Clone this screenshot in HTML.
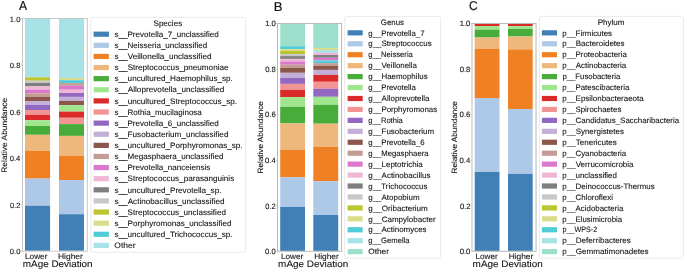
<!DOCTYPE html>
<html><head><meta charset="utf-8"><style>
html,body{margin:0;padding:0;background:#fff;width:685px;height:270px;overflow:hidden;}
svg{display:block;will-change:transform;}
text{text-rendering:geometricPrecision;font-family:"Liberation Sans",sans-serif;fill:#141414;stroke:#141414;stroke-width:0.1px;}
</style></head><body>
<svg width="685" height="270" viewBox="0 0 685 270">
<rect x="0" y="0" width="685" height="270" fill="#fff"/>
<rect x="25.00" y="18.70" width="25.10" height="58.60" fill="#a6e2e6"/>
<rect x="25.00" y="77.30" width="25.10" height="3.40" fill="#bcc430"/>
<rect x="25.00" y="80.70" width="25.10" height="2.30" fill="#c8c8c8"/>
<rect x="25.00" y="83.00" width="25.10" height="3.30" fill="#7f7f7f"/>
<rect x="25.00" y="86.30" width="25.10" height="3.40" fill="#f0b6d6"/>
<rect x="25.00" y="89.70" width="25.10" height="3.60" fill="#dc78cc"/>
<rect x="25.00" y="93.30" width="25.10" height="3.60" fill="#c49c94"/>
<rect x="25.00" y="96.90" width="25.10" height="4.10" fill="#8c564b"/>
<rect x="25.00" y="101.00" width="25.10" height="3.90" fill="#c4afd8"/>
<rect x="25.00" y="104.90" width="25.10" height="5.10" fill="#9268c2"/>
<rect x="25.00" y="110.00" width="25.10" height="4.90" fill="#f29494"/>
<rect x="25.00" y="114.90" width="25.10" height="5.30" fill="#da2a2a"/>
<rect x="25.00" y="120.20" width="25.10" height="5.80" fill="#a0e68e"/>
<rect x="25.00" y="126.00" width="25.10" height="8.80" fill="#48ac3a"/>
<rect x="25.00" y="134.80" width="25.10" height="16.20" fill="#eeb77c"/>
<rect x="25.00" y="151.00" width="25.10" height="27.60" fill="#f08024"/>
<rect x="25.00" y="178.60" width="25.10" height="27.10" fill="#aec8e7"/>
<rect x="25.00" y="205.70" width="25.10" height="45.10" fill="#4080b6"/>
<rect x="59.00" y="18.70" width="25.00" height="59.30" fill="#a6e2e6"/>
<rect x="59.00" y="78.00" width="25.00" height="2.20" fill="#dade8c"/>
<rect x="59.00" y="80.20" width="25.00" height="2.90" fill="#50ccd6"/>
<rect x="59.00" y="83.10" width="25.00" height="2.70" fill="#c49c94"/>
<rect x="59.00" y="85.80" width="25.00" height="3.90" fill="#dc78cc"/>
<rect x="59.00" y="89.70" width="25.00" height="3.30" fill="#f0b6d6"/>
<rect x="59.00" y="93.00" width="25.00" height="3.90" fill="#9268c2"/>
<rect x="59.00" y="96.90" width="25.00" height="4.00" fill="#c4afd8"/>
<rect x="59.00" y="100.90" width="25.00" height="4.20" fill="#8c564b"/>
<rect x="59.00" y="105.10" width="25.00" height="6.50" fill="#a0e68e"/>
<rect x="59.00" y="111.60" width="25.00" height="6.20" fill="#da2a2a"/>
<rect x="59.00" y="117.80" width="25.00" height="6.30" fill="#f29494"/>
<rect x="59.00" y="124.10" width="25.00" height="11.80" fill="#48ac3a"/>
<rect x="59.00" y="135.90" width="25.00" height="19.80" fill="#eeb77c"/>
<rect x="59.00" y="155.70" width="25.00" height="24.30" fill="#f08024"/>
<rect x="59.00" y="180.00" width="25.00" height="34.20" fill="#aec8e7"/>
<rect x="59.00" y="214.20" width="25.00" height="36.60" fill="#4080b6"/>
<rect x="22.50" y="18.50" width="64.80" height="232.70" fill="none" stroke="#c6c6c6" stroke-width="1"/>
<rect x="20.50" y="250.70" width="1.5" height="1" fill="#d0d0d0"/>
<rect x="20.50" y="204.16" width="1.5" height="1" fill="#d0d0d0"/>
<rect x="20.50" y="157.62" width="1.5" height="1" fill="#d0d0d0"/>
<rect x="20.50" y="111.08" width="1.5" height="1" fill="#d0d0d0"/>
<rect x="20.50" y="64.54" width="1.5" height="1" fill="#d0d0d0"/>
<rect x="20.50" y="18.00" width="1.5" height="1" fill="#d0d0d0"/>
<rect x="90.80" y="17.30" width="154.80" height="234.90" rx="2" ry="2" fill="#fff" stroke="#eaeaea" stroke-width="1"/>
<rect x="93.60" y="31.60" width="15.30" height="5.20" fill="#4080b6"/>
<rect x="93.60" y="42.72" width="15.30" height="5.20" fill="#aec8e7"/>
<rect x="93.60" y="53.83" width="15.30" height="5.20" fill="#f08024"/>
<rect x="93.60" y="64.95" width="15.30" height="5.20" fill="#eeb77c"/>
<rect x="93.60" y="76.06" width="15.30" height="5.20" fill="#48ac3a"/>
<rect x="93.60" y="87.18" width="15.30" height="5.20" fill="#a0e68e"/>
<rect x="93.60" y="98.30" width="15.30" height="5.20" fill="#da2a2a"/>
<rect x="93.60" y="109.41" width="15.30" height="5.20" fill="#f29494"/>
<rect x="93.60" y="120.53" width="15.30" height="5.20" fill="#9268c2"/>
<rect x="93.60" y="131.64" width="15.30" height="5.20" fill="#c4afd8"/>
<rect x="93.60" y="142.76" width="15.30" height="5.20" fill="#8c564b"/>
<rect x="93.60" y="153.88" width="15.30" height="5.20" fill="#c49c94"/>
<rect x="93.60" y="164.99" width="15.30" height="5.20" fill="#dc78cc"/>
<rect x="93.60" y="176.11" width="15.30" height="5.20" fill="#f0b6d6"/>
<rect x="93.60" y="187.22" width="15.30" height="5.20" fill="#7f7f7f"/>
<rect x="93.60" y="198.34" width="15.30" height="5.20" fill="#c8c8c8"/>
<rect x="93.60" y="209.46" width="15.30" height="5.20" fill="#bcc430"/>
<rect x="93.60" y="220.57" width="15.30" height="5.20" fill="#dade8c"/>
<rect x="93.60" y="231.69" width="15.30" height="5.20" fill="#50ccd6"/>
<rect x="93.60" y="242.80" width="15.30" height="5.20" fill="#a6e2e6"/>
<rect x="280.20" y="23.70" width="24.80" height="22.50" fill="#9ce0cb"/>
<rect x="280.20" y="46.20" width="24.80" height="2.80" fill="#50ccd6"/>
<rect x="280.20" y="49.00" width="24.80" height="1.90" fill="#dade8c"/>
<rect x="280.20" y="50.90" width="24.80" height="3.10" fill="#bcc430"/>
<rect x="280.20" y="54.00" width="24.80" height="2.10" fill="#c8c8c8"/>
<rect x="280.20" y="56.10" width="24.80" height="2.80" fill="#7f7f7f"/>
<rect x="280.20" y="58.90" width="24.80" height="2.60" fill="#f0b6d6"/>
<rect x="280.20" y="61.50" width="24.80" height="3.20" fill="#dc78cc"/>
<rect x="280.20" y="64.70" width="24.80" height="3.20" fill="#c49c94"/>
<rect x="280.20" y="67.90" width="24.80" height="4.90" fill="#8c564b"/>
<rect x="280.20" y="72.80" width="24.80" height="5.00" fill="#c4afd8"/>
<rect x="280.20" y="77.80" width="24.80" height="6.10" fill="#9268c2"/>
<rect x="280.20" y="83.90" width="24.80" height="6.00" fill="#f29494"/>
<rect x="280.20" y="89.90" width="24.80" height="7.20" fill="#da2a2a"/>
<rect x="280.20" y="97.10" width="24.80" height="9.80" fill="#a0e68e"/>
<rect x="280.20" y="106.90" width="24.80" height="16.50" fill="#48ac3a"/>
<rect x="280.20" y="123.40" width="24.80" height="26.50" fill="#eeb77c"/>
<rect x="280.20" y="149.90" width="24.80" height="27.40" fill="#f08024"/>
<rect x="280.20" y="177.30" width="24.80" height="29.60" fill="#aec8e7"/>
<rect x="280.20" y="206.90" width="24.80" height="44.00" fill="#4080b6"/>
<rect x="313.30" y="23.70" width="24.90" height="24.30" fill="#9ce0cb"/>
<rect x="313.30" y="48.00" width="24.90" height="2.10" fill="#dade8c"/>
<rect x="313.30" y="50.10" width="24.90" height="2.70" fill="#a6e2e6"/>
<rect x="313.30" y="52.80" width="24.90" height="2.20" fill="#f0b6d6"/>
<rect x="313.30" y="55.00" width="24.90" height="2.80" fill="#7f7f7f"/>
<rect x="313.30" y="57.80" width="24.90" height="2.60" fill="#dc78cc"/>
<rect x="313.30" y="60.40" width="24.90" height="2.70" fill="#50ccd6"/>
<rect x="313.30" y="63.10" width="24.90" height="2.80" fill="#c49c94"/>
<rect x="313.30" y="65.90" width="24.90" height="4.00" fill="#8c564b"/>
<rect x="313.30" y="69.90" width="24.90" height="5.00" fill="#c4afd8"/>
<rect x="313.30" y="74.90" width="24.90" height="6.90" fill="#da2a2a"/>
<rect x="313.30" y="81.80" width="24.90" height="7.00" fill="#f29494"/>
<rect x="313.30" y="88.80" width="24.90" height="8.00" fill="#9268c2"/>
<rect x="313.30" y="96.80" width="24.90" height="8.00" fill="#a0e68e"/>
<rect x="313.30" y="104.80" width="24.90" height="18.90" fill="#48ac3a"/>
<rect x="313.30" y="123.70" width="24.90" height="23.20" fill="#eeb77c"/>
<rect x="313.30" y="146.90" width="24.90" height="34.30" fill="#f08024"/>
<rect x="313.30" y="181.20" width="24.90" height="33.80" fill="#aec8e7"/>
<rect x="313.30" y="215.00" width="24.90" height="35.90" fill="#4080b6"/>
<rect x="277.50" y="23.45" width="64.05" height="227.85" fill="none" stroke="#b9b9b9" stroke-width="1"/>
<rect x="275.50" y="250.80" width="1.5" height="1" fill="#d0d0d0"/>
<rect x="275.50" y="205.23" width="1.5" height="1" fill="#d0d0d0"/>
<rect x="275.50" y="159.66" width="1.5" height="1" fill="#d0d0d0"/>
<rect x="275.50" y="114.09" width="1.5" height="1" fill="#d0d0d0"/>
<rect x="275.50" y="68.52" width="1.5" height="1" fill="#d0d0d0"/>
<rect x="275.50" y="22.95" width="1.5" height="1" fill="#d0d0d0"/>
<rect x="344.70" y="16.40" width="95.90" height="241.70" rx="2" ry="2" fill="#fff" stroke="#eaeaea" stroke-width="1"/>
<rect x="347.60" y="30.25" width="15.10" height="5.20" fill="#4080b6"/>
<rect x="347.60" y="41.19" width="15.10" height="5.20" fill="#aec8e7"/>
<rect x="347.60" y="52.13" width="15.10" height="5.20" fill="#f08024"/>
<rect x="347.60" y="63.07" width="15.10" height="5.20" fill="#eeb77c"/>
<rect x="347.60" y="74.01" width="15.10" height="5.20" fill="#48ac3a"/>
<rect x="347.60" y="84.95" width="15.10" height="5.20" fill="#a0e68e"/>
<rect x="347.60" y="95.89" width="15.10" height="5.20" fill="#da2a2a"/>
<rect x="347.60" y="106.83" width="15.10" height="5.20" fill="#f29494"/>
<rect x="347.60" y="117.77" width="15.10" height="5.20" fill="#9268c2"/>
<rect x="347.60" y="128.71" width="15.10" height="5.20" fill="#c4afd8"/>
<rect x="347.60" y="139.65" width="15.10" height="5.20" fill="#8c564b"/>
<rect x="347.60" y="150.59" width="15.10" height="5.20" fill="#c49c94"/>
<rect x="347.60" y="161.53" width="15.10" height="5.20" fill="#dc78cc"/>
<rect x="347.60" y="172.47" width="15.10" height="5.20" fill="#f0b6d6"/>
<rect x="347.60" y="183.41" width="15.10" height="5.20" fill="#7f7f7f"/>
<rect x="347.60" y="194.35" width="15.10" height="5.20" fill="#c8c8c8"/>
<rect x="347.60" y="205.29" width="15.10" height="5.20" fill="#bcc430"/>
<rect x="347.60" y="216.23" width="15.10" height="5.20" fill="#dade8c"/>
<rect x="347.60" y="227.17" width="15.10" height="5.20" fill="#50ccd6"/>
<rect x="347.60" y="238.11" width="15.10" height="5.20" fill="#a6e2e6"/>
<rect x="347.60" y="249.05" width="15.10" height="5.20" fill="#9ce0cb"/>
<rect x="474.70" y="23.90" width="24.80" height="2.10" fill="#da2a2a"/>
<rect x="474.70" y="26.00" width="24.80" height="3.60" fill="#a0e68e"/>
<rect x="474.70" y="29.60" width="24.80" height="7.90" fill="#48ac3a"/>
<rect x="474.70" y="37.50" width="24.80" height="11.20" fill="#eeb77c"/>
<rect x="474.70" y="48.70" width="24.80" height="49.30" fill="#f08024"/>
<rect x="474.70" y="98.00" width="24.80" height="73.90" fill="#aec8e7"/>
<rect x="474.70" y="171.90" width="24.80" height="79.00" fill="#4080b6"/>
<rect x="508.00" y="23.90" width="24.70" height="2.20" fill="#da2a2a"/>
<rect x="508.00" y="26.10" width="24.70" height="2.80" fill="#a0e68e"/>
<rect x="508.00" y="28.90" width="24.70" height="7.60" fill="#48ac3a"/>
<rect x="508.00" y="36.50" width="24.70" height="12.90" fill="#eeb77c"/>
<rect x="508.00" y="49.40" width="24.70" height="59.60" fill="#f08024"/>
<rect x="508.00" y="109.00" width="24.70" height="64.80" fill="#aec8e7"/>
<rect x="508.00" y="173.80" width="24.70" height="77.10" fill="#4080b6"/>
<rect x="472.00" y="23.45" width="64.05" height="227.85" fill="none" stroke="#b9b9b9" stroke-width="1"/>
<rect x="470.00" y="250.80" width="1.5" height="1" fill="#d0d0d0"/>
<rect x="470.00" y="205.23" width="1.5" height="1" fill="#d0d0d0"/>
<rect x="470.00" y="159.66" width="1.5" height="1" fill="#d0d0d0"/>
<rect x="470.00" y="114.09" width="1.5" height="1" fill="#d0d0d0"/>
<rect x="470.00" y="68.52" width="1.5" height="1" fill="#d0d0d0"/>
<rect x="470.00" y="22.95" width="1.5" height="1" fill="#d0d0d0"/>
<rect x="539.40" y="16.35" width="144.00" height="241.85" rx="2" ry="2" fill="#fff" stroke="#eaeaea" stroke-width="1"/>
<rect x="541.90" y="30.25" width="15.10" height="5.20" fill="#4080b6"/>
<rect x="541.90" y="41.19" width="15.10" height="5.20" fill="#aec8e7"/>
<rect x="541.90" y="52.13" width="15.10" height="5.20" fill="#f08024"/>
<rect x="541.90" y="63.07" width="15.10" height="5.20" fill="#eeb77c"/>
<rect x="541.90" y="74.01" width="15.10" height="5.20" fill="#48ac3a"/>
<rect x="541.90" y="84.95" width="15.10" height="5.20" fill="#a0e68e"/>
<rect x="541.90" y="95.89" width="15.10" height="5.20" fill="#da2a2a"/>
<rect x="541.90" y="106.83" width="15.10" height="5.20" fill="#f29494"/>
<rect x="541.90" y="117.77" width="15.10" height="5.20" fill="#9268c2"/>
<rect x="541.90" y="128.71" width="15.10" height="5.20" fill="#c4afd8"/>
<rect x="541.90" y="139.65" width="15.10" height="5.20" fill="#8c564b"/>
<rect x="541.90" y="150.59" width="15.10" height="5.20" fill="#c49c94"/>
<rect x="541.90" y="161.53" width="15.10" height="5.20" fill="#dc78cc"/>
<rect x="541.90" y="172.47" width="15.10" height="5.20" fill="#f0b6d6"/>
<rect x="541.90" y="183.41" width="15.10" height="5.20" fill="#7f7f7f"/>
<rect x="541.90" y="194.35" width="15.10" height="5.20" fill="#c8c8c8"/>
<rect x="541.90" y="205.29" width="15.10" height="5.20" fill="#bcc430"/>
<rect x="541.90" y="216.23" width="15.10" height="5.20" fill="#dade8c"/>
<rect x="541.90" y="227.17" width="15.10" height="5.20" fill="#50ccd6"/>
<rect x="541.90" y="238.11" width="15.10" height="5.20" fill="#a6e2e6"/>
<rect x="541.90" y="249.05" width="15.10" height="5.20" fill="#9ce0cb"/>
<text x="19.08" y="10.45" font-size="13.03" textLength="8.05" lengthAdjust="spacingAndGlyphs" style="stroke-width:0.2px">A</text>
<text x="273.82" y="10.50" font-size="12.61" textLength="8.77" lengthAdjust="spacingAndGlyphs" style="stroke-width:0.2px">B</text>
<text x="468.88" y="10.30" font-size="12.72" textLength="8.78" lengthAdjust="spacingAndGlyphs" style="stroke-width:0.2px">C</text>
<text x="9.82" y="254.30" font-size="7.55" textLength="10.58" lengthAdjust="spacingAndGlyphs">0.0</text>
<text x="10.05" y="207.76" font-size="7.55" textLength="10.43" lengthAdjust="spacingAndGlyphs">0.2</text>
<text x="9.75" y="161.22" font-size="7.55" textLength="10.58" lengthAdjust="spacingAndGlyphs">0.4</text>
<text x="9.79" y="114.68" font-size="7.55" textLength="10.65" lengthAdjust="spacingAndGlyphs">0.6</text>
<text x="9.83" y="68.14" font-size="7.55" textLength="10.60" lengthAdjust="spacingAndGlyphs">0.8</text>
<text x="9.83" y="21.60" font-size="7.55" textLength="10.56" lengthAdjust="spacingAndGlyphs">1.0</text>
<text x="265.12" y="254.10" font-size="7.65" textLength="10.58" lengthAdjust="spacingAndGlyphs">0.0</text>
<text x="265.35" y="208.53" font-size="7.65" textLength="10.43" lengthAdjust="spacingAndGlyphs">0.2</text>
<text x="265.05" y="162.96" font-size="7.65" textLength="10.58" lengthAdjust="spacingAndGlyphs">0.4</text>
<text x="265.09" y="117.39" font-size="7.65" textLength="10.65" lengthAdjust="spacingAndGlyphs">0.6</text>
<text x="265.13" y="71.82" font-size="7.65" textLength="10.60" lengthAdjust="spacingAndGlyphs">0.8</text>
<text x="265.13" y="26.25" font-size="7.65" textLength="10.56" lengthAdjust="spacingAndGlyphs">1.0</text>
<text x="459.67" y="254.10" font-size="7.65" textLength="10.74" lengthAdjust="spacingAndGlyphs">0.0</text>
<text x="459.90" y="208.53" font-size="7.65" textLength="10.58" lengthAdjust="spacingAndGlyphs">0.2</text>
<text x="459.59" y="162.96" font-size="7.65" textLength="10.73" lengthAdjust="spacingAndGlyphs">0.4</text>
<text x="459.64" y="117.39" font-size="7.65" textLength="10.80" lengthAdjust="spacingAndGlyphs">0.6</text>
<text x="459.68" y="71.82" font-size="7.65" textLength="10.76" lengthAdjust="spacingAndGlyphs">0.8</text>
<text x="459.69" y="26.25" font-size="7.65" textLength="10.72" lengthAdjust="spacingAndGlyphs">1.0</text>
<text x="24.96" y="258.60" font-size="7.89" textLength="22.53" lengthAdjust="spacingAndGlyphs">Lower</text>
<text x="57.99" y="258.60" font-size="7.89" textLength="24.87" lengthAdjust="spacingAndGlyphs">Higher</text>
<text x="281.02" y="258.60" font-size="7.79" textLength="22.23" lengthAdjust="spacingAndGlyphs">Lower</text>
<text x="314.16" y="258.60" font-size="7.79" textLength="24.54" lengthAdjust="spacingAndGlyphs">Higher</text>
<text x="475.52" y="258.60" font-size="7.79" textLength="22.23" lengthAdjust="spacingAndGlyphs">Lower</text>
<text x="508.66" y="258.60" font-size="7.79" textLength="24.54" lengthAdjust="spacingAndGlyphs">Higher</text>
<text x="22.84" y="266.50" font-size="9.32" textLength="69.80" lengthAdjust="spacingAndGlyphs">mAge Deviation</text>
<text x="278.14" y="266.50" font-size="9.27" textLength="70.10" lengthAdjust="spacingAndGlyphs">mAge Deviation</text>
<text x="472.64" y="266.50" font-size="9.27" textLength="70.10" lengthAdjust="spacingAndGlyphs">mAge Deviation</text>
<text x="7.40" y="172.69" font-size="7.95" textLength="74.76" lengthAdjust="spacingAndGlyphs" transform="rotate(-90 7.40 172.69)">Relative Abundance</text>
<text x="262.80" y="173.46" font-size="7.74" textLength="72.32" lengthAdjust="spacingAndGlyphs" transform="rotate(-90 262.80 173.46)">Relative Abundance</text>
<text x="457.30" y="173.46" font-size="7.74" textLength="72.32" lengthAdjust="spacingAndGlyphs" transform="rotate(-90 457.30 173.46)">Relative Abundance</text>
<text x="153.53" y="25.60" font-size="7.95" textLength="28.66" lengthAdjust="spacingAndGlyphs">Species</text>
<text x="380.89" y="25.00" font-size="7.74" textLength="23.12" lengthAdjust="spacingAndGlyphs">Genus</text>
<text x="597.65" y="25.00" font-size="7.74" textLength="26.97" lengthAdjust="spacingAndGlyphs">Phylum</text>
<text x="114.53" y="36.90" font-size="7.95" textLength="104.23" lengthAdjust="spacingAndGlyphs">s__Prevotella_7_unclassified</text>
<text x="114.53" y="48.02" font-size="7.95" textLength="92.75" lengthAdjust="spacingAndGlyphs">s__Neisseria_unclassified</text>
<text x="114.52" y="59.13" font-size="7.95" textLength="96.94" lengthAdjust="spacingAndGlyphs">s__Veillonella_unclassified</text>
<text x="114.52" y="70.25" font-size="7.95" textLength="114.00" lengthAdjust="spacingAndGlyphs">s__Streptococcus_pneumoniae</text>
<text x="114.52" y="81.36" font-size="7.95" textLength="118.31" lengthAdjust="spacingAndGlyphs">s__uncultured_Haemophilus_sp.</text>
<text x="114.52" y="92.48" font-size="7.95" textLength="109.80" lengthAdjust="spacingAndGlyphs">s__Alloprevotella_unclassified</text>
<text x="114.52" y="103.60" font-size="7.95" textLength="122.50" lengthAdjust="spacingAndGlyphs">s__uncultured_Streptococcus_sp.</text>
<text x="114.53" y="114.71" font-size="7.95" textLength="87.28" lengthAdjust="spacingAndGlyphs">s__Rothia_mucilaginosa</text>
<text x="114.53" y="125.83" font-size="7.95" textLength="104.23" lengthAdjust="spacingAndGlyphs">s__Prevotella_6_unclassified</text>
<text x="114.52" y="136.94" font-size="7.95" textLength="113.89" lengthAdjust="spacingAndGlyphs">s__Fusobacterium_unclassified</text>
<text x="114.52" y="148.06" font-size="7.95" textLength="128.10" lengthAdjust="spacingAndGlyphs">s__uncultured_Porphyromonas_sp.</text>
<text x="114.53" y="159.18" font-size="7.95" textLength="108.86" lengthAdjust="spacingAndGlyphs">s__Megasphaera_unclassified</text>
<text x="114.53" y="170.29" font-size="7.95" textLength="95.76" lengthAdjust="spacingAndGlyphs">s__Prevotella_nanceiensis</text>
<text x="114.52" y="181.41" font-size="7.95" textLength="119.73" lengthAdjust="spacingAndGlyphs">s__Streptococcus_parasanguinis</text>
<text x="114.52" y="192.52" font-size="7.95" textLength="106.90" lengthAdjust="spacingAndGlyphs">s__uncultured_Prevotella_sp.</text>
<text x="114.52" y="203.64" font-size="7.95" textLength="110.11" lengthAdjust="spacingAndGlyphs">s__Actinobacillus_unclassified</text>
<text x="114.52" y="214.76" font-size="7.95" textLength="111.39" lengthAdjust="spacingAndGlyphs">s__Streptococcus_unclassified</text>
<text x="114.52" y="225.87" font-size="7.95" textLength="117.00" lengthAdjust="spacingAndGlyphs">s__Porphyromonas_unclassified</text>
<text x="114.53" y="236.99" font-size="7.95" textLength="118.06" lengthAdjust="spacingAndGlyphs">s__uncultured_Trichococcus_sp.</text>
<text x="114.35" y="248.10" font-size="7.95" textLength="21.22" lengthAdjust="spacingAndGlyphs">Other</text>
<text x="368.27" y="35.55" font-size="7.81" textLength="56.25" lengthAdjust="spacingAndGlyphs">g__Prevotella_7</text>
<text x="368.27" y="46.49" font-size="7.81" textLength="63.42" lengthAdjust="spacingAndGlyphs">g__Streptococcus</text>
<text x="368.28" y="57.43" font-size="7.81" textLength="44.59" lengthAdjust="spacingAndGlyphs">g__Neisseria</text>
<text x="368.27" y="68.37" font-size="7.81" textLength="48.68" lengthAdjust="spacingAndGlyphs">g__Veillonella</text>
<text x="368.27" y="79.31" font-size="7.81" textLength="59.33" lengthAdjust="spacingAndGlyphs">g__Haemophilus</text>
<text x="368.27" y="90.25" font-size="7.81" textLength="47.56" lengthAdjust="spacingAndGlyphs">g__Prevotella</text>
<text x="368.26" y="101.19" font-size="7.81" textLength="61.26" lengthAdjust="spacingAndGlyphs">g__Alloprevotella</text>
<text x="368.27" y="112.13" font-size="7.81" textLength="68.91" lengthAdjust="spacingAndGlyphs">g__Porphyromonas</text>
<text x="368.28" y="123.07" font-size="7.81" textLength="34.57" lengthAdjust="spacingAndGlyphs">g__Rothia</text>
<text x="368.27" y="134.01" font-size="7.81" textLength="65.84" lengthAdjust="spacingAndGlyphs">g__Fusobacterium</text>
<text x="368.27" y="144.95" font-size="7.81" textLength="56.37" lengthAdjust="spacingAndGlyphs">g__Prevotella_6</text>
<text x="368.27" y="155.89" font-size="7.81" textLength="60.35" lengthAdjust="spacingAndGlyphs">g__Megasphaera</text>
<text x="368.27" y="166.83" font-size="7.81" textLength="54.53" lengthAdjust="spacingAndGlyphs">g__Leptotrichia</text>
<text x="368.26" y="177.77" font-size="7.81" textLength="62.17" lengthAdjust="spacingAndGlyphs">g__Actinobacillus</text>
<text x="368.27" y="188.71" font-size="7.81" textLength="59.08" lengthAdjust="spacingAndGlyphs">g__Trichococcus</text>
<text x="368.27" y="199.65" font-size="7.81" textLength="51.38" lengthAdjust="spacingAndGlyphs">g__Atopobium</text>
<text x="368.26" y="210.59" font-size="7.81" textLength="59.55" lengthAdjust="spacingAndGlyphs">g__Oribacterium</text>
<text x="368.26" y="221.53" font-size="7.81" textLength="67.33" lengthAdjust="spacingAndGlyphs">g__Campylobacter</text>
<text x="368.27" y="232.47" font-size="7.81" textLength="58.29" lengthAdjust="spacingAndGlyphs">g__Actinomyces</text>
<text x="368.28" y="243.41" font-size="7.81" textLength="41.30" lengthAdjust="spacingAndGlyphs">g__Gemella</text>
<text x="368.21" y="254.35" font-size="7.81" textLength="20.76" lengthAdjust="spacingAndGlyphs">Other</text>
<text x="562.39" y="35.55" font-size="7.81" textLength="49.67" lengthAdjust="spacingAndGlyphs">p__Firmicutes</text>
<text x="562.39" y="46.49" font-size="7.81" textLength="62.09" lengthAdjust="spacingAndGlyphs">p__Bacteroidetes</text>
<text x="562.39" y="57.43" font-size="7.81" textLength="64.52" lengthAdjust="spacingAndGlyphs">p__Proteobacteria</text>
<text x="562.39" y="68.37" font-size="7.81" textLength="63.83" lengthAdjust="spacingAndGlyphs">p__Actinobacteria</text>
<text x="562.40" y="79.31" font-size="7.81" textLength="57.94" lengthAdjust="spacingAndGlyphs">p__Fusobacteria</text>
<text x="562.39" y="90.25" font-size="7.81" textLength="66.89" lengthAdjust="spacingAndGlyphs">p__Patescibacteria</text>
<text x="562.39" y="101.19" font-size="7.81" textLength="81.23" lengthAdjust="spacingAndGlyphs">p__Epsilonbacteraeota</text>
<text x="562.39" y="112.13" font-size="7.81" textLength="58.99" lengthAdjust="spacingAndGlyphs">p__Spirochaetes</text>
<text x="562.39" y="123.07" font-size="7.81" textLength="116.79" lengthAdjust="spacingAndGlyphs">p__Candidatus_Saccharibacteria</text>
<text x="562.39" y="134.01" font-size="7.81" textLength="61.51" lengthAdjust="spacingAndGlyphs">p__Synergistetes</text>
<text x="562.39" y="144.95" font-size="7.81" textLength="54.38" lengthAdjust="spacingAndGlyphs">p__Tenericutes</text>
<text x="562.39" y="155.89" font-size="7.81" textLength="63.81" lengthAdjust="spacingAndGlyphs">p__Cyanobacteria</text>
<text x="562.39" y="166.83" font-size="7.81" textLength="71.18" lengthAdjust="spacingAndGlyphs">p__Verrucomicrobia</text>
<text x="562.39" y="177.77" font-size="7.81" textLength="54.53" lengthAdjust="spacingAndGlyphs">p__unclassified</text>
<text x="562.39" y="188.71" font-size="7.81" textLength="92.26" lengthAdjust="spacingAndGlyphs">p__Deinococcus-Thermus</text>
<text x="562.39" y="199.65" font-size="7.81" textLength="50.55" lengthAdjust="spacingAndGlyphs">p__Chloroflexi</text>
<text x="562.39" y="210.59" font-size="7.81" textLength="60.98" lengthAdjust="spacingAndGlyphs">p__Acidobacteria</text>
<text x="562.39" y="221.53" font-size="7.81" textLength="59.72" lengthAdjust="spacingAndGlyphs">p__Elusimicrobia</text>
<text x="562.44" y="232.47" font-size="7.81" textLength="34.76" lengthAdjust="spacingAndGlyphs">p__WPS-2</text>
<text x="562.38" y="243.41" font-size="7.81" textLength="68.42" lengthAdjust="spacingAndGlyphs">p__Deferribacteres</text>
<text x="562.38" y="254.35" font-size="7.81" textLength="86.07" lengthAdjust="spacingAndGlyphs">p__Gemmatimonadetes</text>
</svg>
</body></html>
